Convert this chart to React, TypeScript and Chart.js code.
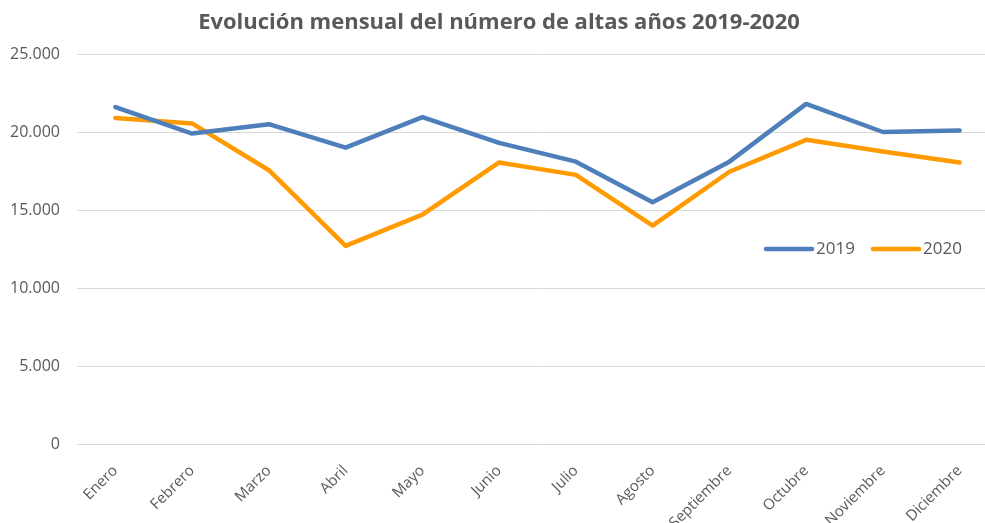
import React, { useEffect, useRef } from "react";
import { Chart, registerables } from "chart.js";

Chart.register(...registerables);

const months = ["Enero", "Febrero", "Marzo", "Abril", "Mayo", "Junio", "Julio", "Agosto", "Septiembre", "Octubre", "Noviembre", "Diciembre"];
const altas2019 = [21600, 19900, 20500, 19000, 20950, 19300, 18100, 15500, 18100, 21800, 20000, 20100];
const altas2020 = [20900, 20550, 17550, 12700, 14700, 18050, 17250, 14000, 17450, 19500, 18750, 18050];
const yTicks = [0, 5000, 10000, 15000, 20000, 25000];
const title = "Evolución mensual del número de altas años 2019-2020";

const TEXT = "#595959";
const FONT = "'Open Sans', sans-serif";

const fmt = (v: number) => v.toLocaleString("de-DE");

const legendPlugin = {
  id: "insideLegend",
  afterDraw(chart: any) {
    const ctx = chart.ctx;
    const items = [
      { x: 766, ds: chart.data.datasets[0] },
      { x: 873, ds: chart.data.datasets[1] },
    ];
    const y = 249;
    ctx.save();
    items.forEach((it) => {
      ctx.strokeStyle = it.ds.borderColor;
      ctx.lineWidth = 4.5;
      ctx.lineCap = "round";
      ctx.beginPath();
      ctx.moveTo(it.x, y);
      ctx.lineTo(it.x + 46, y);
      ctx.stroke();
      ctx.fillStyle = TEXT;
      ctx.font = `17px ${FONT}`;
      ctx.textAlign = "left";
      ctx.textBaseline = "middle";
      ctx.fillText(it.ds.label, it.x + 50, y);
    });
    ctx.restore();
  },
};

export default function App() {
  const ref = useRef<HTMLCanvasElement | null>(null);
  useEffect(() => {
    document.body.style.margin = "0";
    const chart = new Chart(ref.current!, {
      type: "line",
      data: {
        labels: months,
        datasets: [
          {
            label: "2019",
            data: altas2019,
            borderColor: "#4E7FBB",
            borderWidth: 4.5,
            borderCapStyle: "round",
            borderJoinStyle: "round",
            pointRadius: 0,
            tension: 0,
          },
          {
            label: "2020",
            data: altas2020,
            borderColor: "#FF9B00",
            borderWidth: 4.5,
            borderCapStyle: "round",
            borderJoinStyle: "round",
            pointRadius: 0,
            tension: 0,
          },
        ],
      },
      options: {
        animation: false,
        responsive: false,
        maintainAspectRatio: false,
        layout: { padding: { left: 0, right: 2, top: 0, bottom: 0 } },
        plugins: {
          legend: { display: false },
          tooltip: { enabled: false },
          title: {
            display: true,
            text: title,
            color: TEXT,
            font: { family: FONT, size: 22, weight: "bold" },
            padding: { top: 10, bottom: 17.6 },
          },
        },
        scales: {
          x: {
            offset: true,
            grid: { display: false },
            border: { display: false },
            ticks: {
              color: TEXT,
              font: { family: FONT, size: 15 },
              minRotation: 45,
              maxRotation: 45,
              autoSkip: false,
              padding: 10,
            },
            afterFit: (s: any) => {
              s.height = 79;
            },
          },
          y: {
            min: 0,
            max: 25000,
            afterBuildTicks: (s: any) => {
              s.ticks = yTicks.map((v) => ({ value: v }));
            },
            grid: { color: "#D9D9D9", lineWidth: 1, drawTicks: false },
            border: { display: false },
            ticks: {
              color: TEXT,
              font: { family: FONT, size: 16 },
              padding: 17,
              callback: (v: any) => fmt(Number(v)),
            },
            afterFit: (s: any) => {
              s.width = 77;
            },
          },
        },
      },
      plugins: [legendPlugin],
    } as any);
    return () => chart.destroy();
  }, []);
  return (
    <div style={{ position: "fixed", left: 0, top: 0, width: 985, height: 523, overflow: "hidden", background: "#fff" }}>
      <canvas ref={ref} width={1000} height={523} style={{ display: "block", width: 1000, height: 523 }} />
    </div>
  );
}
